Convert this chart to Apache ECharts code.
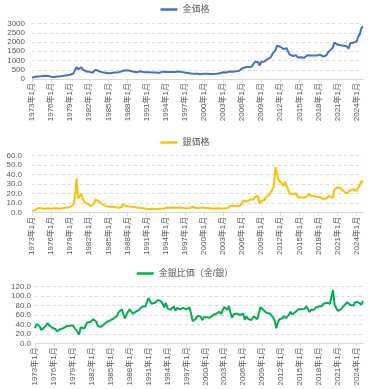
<!DOCTYPE html>
<html><head><meta charset="utf-8">
<script src="https://cdn.jsdelivr.net/npm/echarts@6/dist/echarts.min.js"></script>
<style>html,body{margin:0;padding:0;background:#fff}#c{width:370px;height:389px}</style>
</head><body><div id="c"></div>
<script>
// Quarterly samples (Jan, Apr, Jul, Oct), 1973年1月 .. 2025年1月
const startYear = 1973, endYear = 2025;
const gold = [
65,90,120,100, 140,170,155,155, 180,167,166,143, 128,128,112,123, 132,148,144,162, 175,170,200,242,
233,245,296,382, 653,517,614,630, 506,482,407,427, 387,350,342,423, 499,429,423,382, 370,372,342,333,
306,321,327,326, 345,345,357,401, 405,451,462,468, 476,451,436,412, 394,378,368,375, 415,368,372,380,
366,357,362,357, 354,336,357,339, 330,354,401,369, 378,376,384,383, 375,389,383,383, 405,393,385,379,
345,340,326,311, 302,308,288,292, 287,286,255,299, 283,274,282,265, 266,264,266,279, 282,308,305,317,
368,336,354,386, 402,388,391,428, 422,435,429,470, 569,654,633,603, 650,679,666,789, 923,865,918,731,
920,888,940,1040, 1078,1180,1170,1346, 1332,1556,1800,1722, 1744,1651,1622,1720, 1664,1467,1314,1324,
1244,1300,1285,1164, 1260,1180,1098,1142, 1097,1285,1351,1272, 1212,1266,1267,1270, 1345,1316,1224,1215,
1320,1283,1437,1510, 1589,1702,1970,1880, 1863,1767,1825,1783, 1796,1896,1754,1634, 1929,1989,1965,1983,
2039,2291,2426,2744, 2850
];
const silver = [
2.0,2.2,2.7,2.8, 5.0,5.5,4.6,4.9, 4.2,4.4,4.6,4.3, 4.1,4.3,4.8,4.5, 4.4,4.7,4.5,4.7, 4.9,5.0,5.4,6.0,
6.1,7.5,8.9,16.0, 36.0,15.0,16.0,20.0, 14.0,11.0,9.0,9.5, 8.2,6.8,6.5,9.5, 14.0,12.5,12.0,10.0, 9.0,9.2,7.5,7.3,
6.2,6.5,6.2,6.2, 6.0,5.2,5.1,5.6, 5.6,8.5,7.6,7.2, 6.6,6.5,6.9,6.3, 5.9,5.7,5.2,5.1, 5.3,5.0,4.8,4.3,
3.8,4.0,4.3,4.1, 4.1,4.0,3.9,3.8, 3.7,4.2,5.3,4.3, 5.1,5.4,5.4,5.3, 4.8,5.6,5.1,5.3, 5.6,5.4,5.1,4.9,
4.8,4.8,4.3,5.0, 6.4,6.3,5.5,5.0, 5.2,5.0,5.2,5.4, 5.2,5.0,5.0,4.9, 4.7,4.4,4.3,4.4, 4.5,4.6,4.9,4.5,
4.8,4.5,5.0,4.9, 6.3,7.2,6.3,7.2, 6.7,7.1,7.1,7.5, 9.0,13.0,11.2,11.6, 13.2,13.8,12.9,13.8, 16.0,17.1,17.8,9.5,
12.3,12.6,13.4,16.2, 16.2,18.6,18.0,24.4, 28.0,48.0,40.0,34.0, 34.3,31.0,28.0,32.4, 31.3,24.0,19.7,21.6,
19.3,19.7,20.4,16.2, 17.2,16.3,14.6,15.6, 14.1,17.6,20.4,17.8, 17.1,17.9,16.6,16.7, 17.3,16.4,15.5,14.4,
16.0,15.0,16.4,18.0, 18.0,15.1,24.2,23.7, 26.9,26.0,25.5,24.0, 22.5,23.0,20.2,19.1, 23.9,25.0,24.6,22.9,
22.9,26.4,29.0,33.5, 31.3
];
const ratio = [
32,41,44,36, 28,31,34,32, 43,38,36,33, 31,30,25,27, 30,31,32,34, 36,34,37,40,
38,33,33,24, 18,34,38,31, 36,44,45,45, 47,51,53,45, 36,34,35,38, 41,40,46,46,
49,49,53,53, 58,66,70,72, 72,53,61,65, 72,69,63,65, 67,66,71,74, 78,74,78,88,
96,89,84,87, 86,84,92,89, 89,84,76,86, 74,70,71,72, 78,69,75,72, 72,73,75,77,
72,71,76,62, 47,49,52,58, 55,57,49,55, 54,55,56,54, 57,60,62,63, 63,67,62,70,
77,75,71,79, 64,54,62,59, 63,61,60,63, 63,50,57,52, 49,49,52,57, 58,51,52,77,
75,70,70,64, 67,63,65,55, 48,32,44,51, 51,53,58,53, 53,61,67,61,
64,66,63,72, 73,72,75,73, 78,73,66,71, 71,71,76,76, 78,80,79,84,
82,86,88,84, 88,113,81,79, 69,68,72,74, 80,82,87,86, 81,80,80,87,
89,87,84,82, 90
];
const months = [1,4,7,10];
const categories = [];
for (let y = startYear; y <= endYear; y++) for (const m of months) {
  if (categories.length < gold.length) categories.push(y + '年' + m + '月');
}
const names = ['金価格','銀価格','金銀比価（金/銀）'];
const colors = ['#4472C4','#FFC000','#00B050'];
const yMax = [3000, 60, 120], yInt = [500, 10, 20], yDec = [0, 1, 1];
const tops = [23.5, 155.7, 286.7], heights = [55.5, 57, 56.6], lefts = [32, 32, 35];
const labMargin = [7, 10, 4];
const legendTops = [0, 133, 264];
const FONT = '"Liberation Sans","Noto Sans CJK JP",sans-serif';
const txt = '#595959';
const series = [gold, silver, ratio];

const chart = echarts.init(document.getElementById('c'), null, {renderer:'canvas'});
chart.setOption({
  animation: false,
  textStyle: {fontFamily: FONT},
  legend: [0,1,2].map(i => ({
    data: [names[i]], top: legendTops[i], left: 'center',
    icon: 'rect', itemWidth: 17, itemHeight: 2.5, itemGap: 4,
    textStyle: {fontSize: 9, color: txt, fontFamily: FONT}
  })),
  grid: [0,1,2].map(i => ({left: lefts[i], top: tops[i], height: heights[i], right: 7})),
  xAxis: [0,1,2].map(i => ({
    type: 'category', gridIndex: i, data: categories, boundaryGap: false,
    axisLine: {lineStyle: {color: '#d9d9d9'}},
    axisTick: {interval: 11, length: 3, lineStyle: {color: '#d9d9d9'}},
    axisLabel: {interval: 11, rotate: 90, fontSize: 8, color: txt, margin: 4, fontFamily: FONT},
    splitLine: {show: false}
  })),
  yAxis: [0,1,2].map(i => ({
    type: 'value', gridIndex: i, min: 0, max: yMax[i], interval: yInt[i],
    axisLine: {show: false}, axisTick: {show: false},
    axisLabel: {fontSize: 8, color: txt, margin: labMargin[i], fontFamily: FONT,
      formatter: v => v.toFixed(yDec[i])},
    splitLine: {lineStyle: {color: '#d9d9d9', type: [3,3], width: 1}}
  })),
  series: [0,1,2].map(i => ({
    name: names[i], type: 'line', xAxisIndex: i, yAxisIndex: i,
    data: series[i], showSymbol: false, symbol: 'none',
    lineStyle: {color: colors[i], width: 2}, itemStyle: {color: colors[i]}
  }))
});
</script></body></html>
